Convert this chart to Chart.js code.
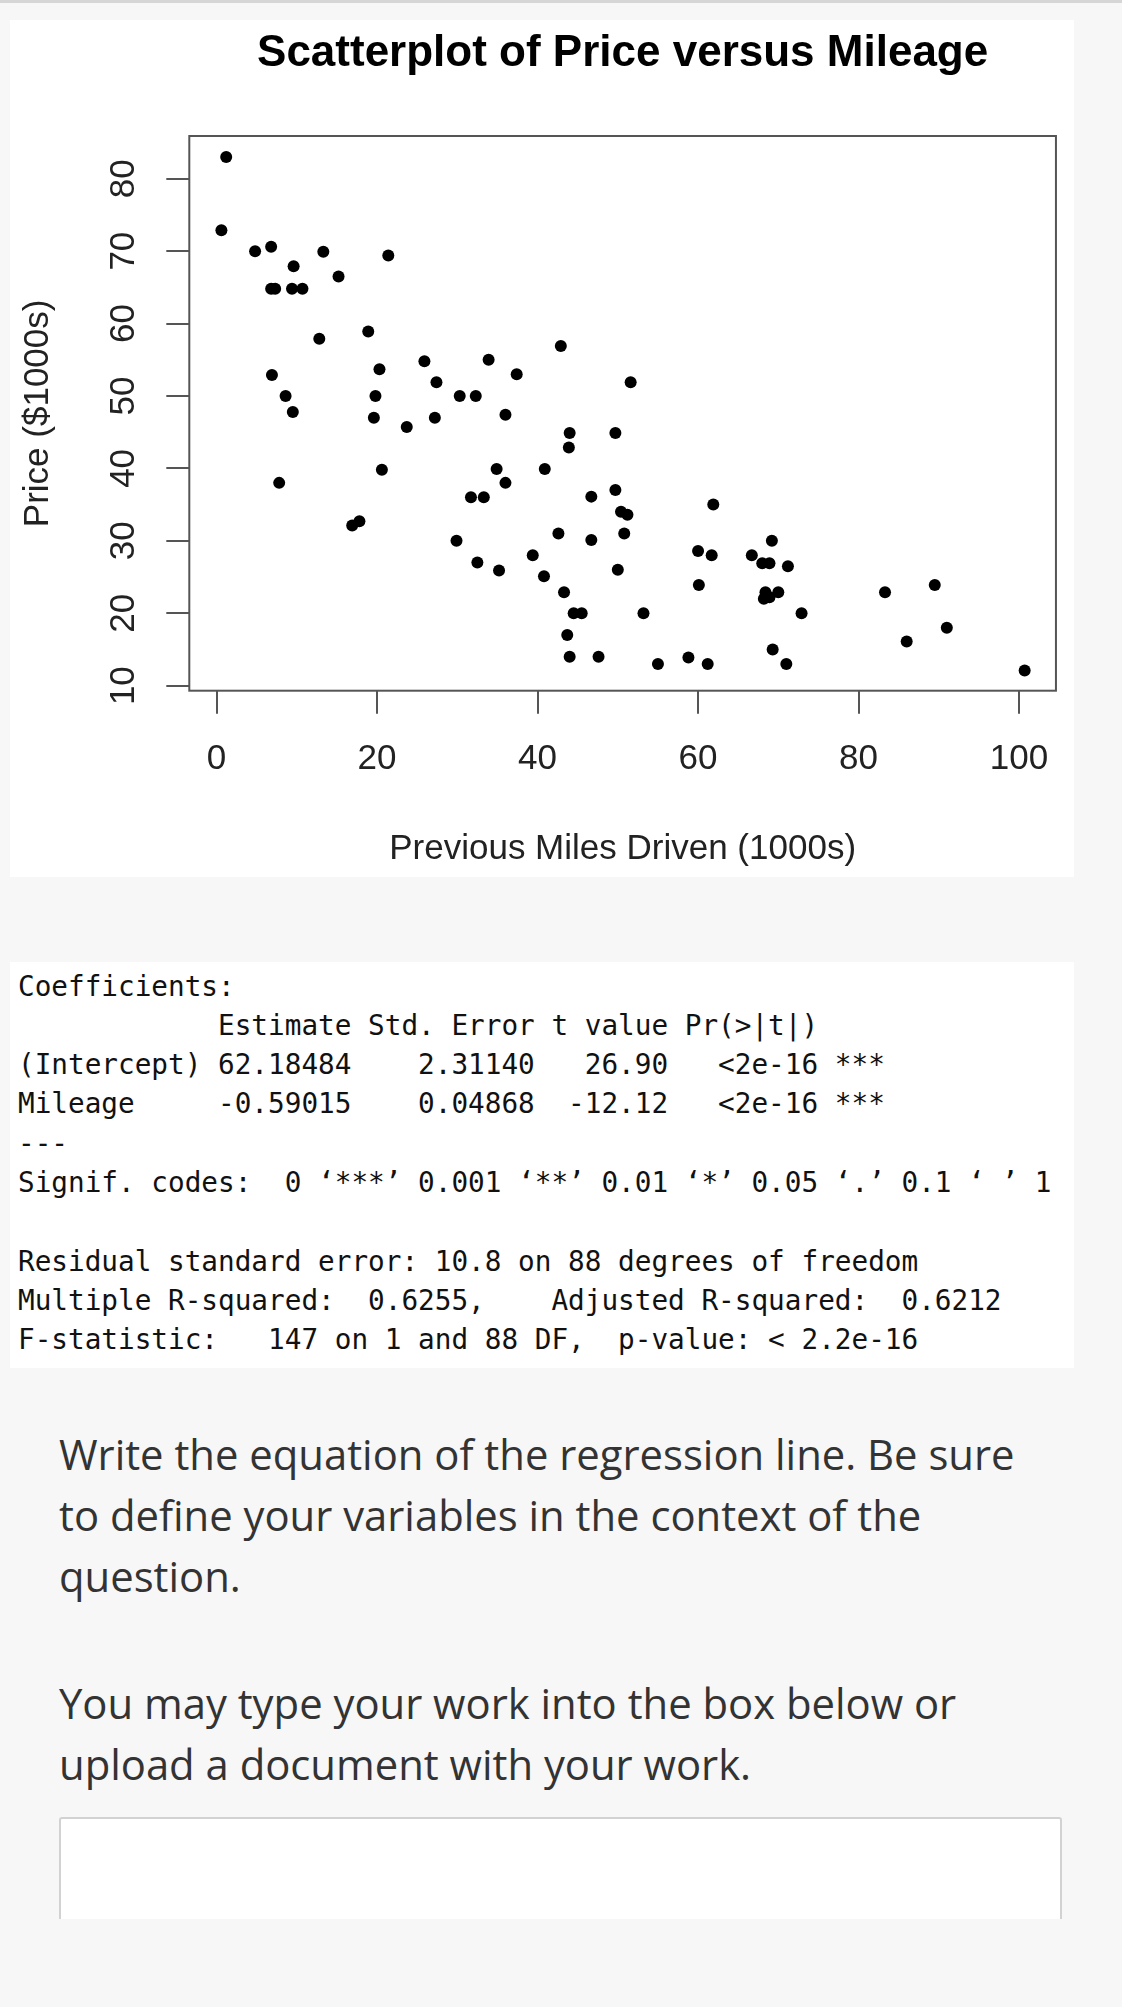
<!DOCTYPE html>
<html>
<head>
<meta charset="utf-8">
<title>Scatterplot of Price versus Mileage</title>
<script src="https://cdn.jsdelivr.net/npm/chart.js@4.4.0/dist/chart.umd.min.js"></script>
<style>
  html, body { margin: 0; padding: 0; }
  body {
    width: 1122px; height: 2007px; position: relative; overflow: hidden;
    background: #f7f7f7; font-family: "Open Sans", "Noto Sans", sans-serif;
  }
  .topline { position: absolute; left: 0; top: 0; width: 1122px; height: 3px; background: #d6d6d6; }
  #chartBox { position: absolute; left: 10px; top: 20px; width: 1064px; height: 857px; background: #fff; }
  #stats {
    position: absolute; left: 10px; top: 962px; width: 1064px; height: 406px; margin: 0;
    box-sizing: border-box; padding: 4.5px 0 0 8px; background: #fff; color: #111;
    font: 27.7px/39.3px "DejaVu Sans Mono", monospace; white-space: pre;
  }
  .q { position: absolute; left: 59px; margin: 0; color: #333; font-size: 41.8px; line-height: 61px; white-space: nowrap; }
  #answerWrap { position: absolute; left: 59px; top: 1817px; width: 1003px; height: 102px; overflow: hidden; }
  #answer {
    box-sizing: border-box; width: 1003px; height: 200px; background: #fff;
    border: 2px solid #d2d2d2; border-radius: 3px;
  }
</style>
</head>
<body>
<div class="topline"></div>
<div id="chartBox"><canvas id="chart" width="1064" height="857"></canvas></div>

<pre id="stats">Coefficients:
            Estimate Std. Error t value Pr(&gt;|t|)
(Intercept) 62.18484    2.31140   26.90   &lt;2e-16 ***
Mileage     -0.59015    0.04868  -12.12   &lt;2e-16 ***
---
Signif. codes:  0 ‘***’ 0.001 ‘**’ 0.01 ‘*’ 0.05 ‘.’ 0.1 ‘ ’ 1

Residual standard error: 10.8 on 88 degrees of freedom
Multiple R-squared:  0.6255,    Adjusted R-squared:  0.6212
F-statistic:   147 on 1 and 88 DF,  p-value: &lt; 2.2e-16</pre>

<p class="q" style="top:1423px">Write the equation of the regression line. Be sure<br>to define your variables in the context of the<br>question.</p>
<p class="q" style="top:1672px">You may type your work into the box below or<br>upload a document with your work.</p>
<div id="answerWrap"><div id="answer"></div></div>

<script>
// mileage in 1000s of miles, price in $1000s
const mileage = [1.2, 0.6, 4.8, 6.8, 9.6, 13.3, 15.2, 21.4, 6.8, 7.3,
  9.4, 10.7, 12.8, 18.9, 6.9, 20.3, 8.6, 19.8, 9.5, 19.6,
  23.7, 25.9, 27.4, 30.3, 32.3, 33.9, 37.4, 42.9, 51.6, 27.2,
  36.0, 44.0, 49.7, 43.9, 20.6, 34.9, 36.0, 40.9, 31.7, 33.3,
  46.7, 49.7, 50.4, 51.2, 61.9, 42.6, 46.7, 50.8, 29.9, 32.5,
  35.2, 39.4, 40.8, 50.0, 43.3, 44.5, 45.5, 43.7, 44.0, 47.6,
  53.2, 55.0, 58.8, 61.2, 60.0, 61.7, 60.1, 69.2, 66.7, 68.0,
  68.9, 71.2, 68.4, 68.2, 70.0, 68.9, 72.9, 69.3, 71.0, 83.3,
  89.5, 91.0, 86.0, 100.7, 7.8, 16.9, 17.8];
const price = [83.0, 72.9, 70.0, 70.6, 67.9, 69.9, 66.5, 69.4, 64.8, 64.8,
  64.8, 64.8, 57.9, 58.9, 52.9, 53.7, 50.0, 50.0, 47.8, 47.0,
  45.7, 54.8, 51.9, 50.0, 50.0, 55.0, 53.0, 56.9, 51.9, 47.0,
  47.4, 44.9, 44.9, 42.9, 39.8, 39.9, 38.0, 39.9, 36.0, 36.0,
  36.1, 37.0, 34.0, 33.6, 35.0, 31.0, 30.1, 31.0, 30.0, 27.0,
  25.9, 28.0, 25.1, 26.0, 22.9, 20.0, 20.0, 17.0, 14.0, 14.0,
  20.0, 13.0, 13.9, 13.0, 28.6, 28.0, 23.9, 30.0, 28.0, 26.9,
  26.9, 26.5, 22.9, 22.0, 22.9, 22.2, 20.0, 15.0, 13.0, 22.9,
  23.9, 18.0, 16.1, 12.1, 38.0, 32.1, 32.7];
const xTicks = [0, 20, 40, 60, 80, 100];
const yTicks = [10, 20, 30, 40, 50, 60, 70, 80];

const FONT = '"Liberation Sans", Arial, Helvetica, sans-serif';
Chart.defaults.font.family = FONT;

const points = mileage.map((m, i) => ({ x: m, y: price[i] }));

// R style frame round the plot region
const frame = {
  id: 'frame',
  beforeDatasetsDraw(chart) {
    const { ctx, chartArea: a } = chart;
    ctx.save();
    ctx.strokeStyle = '#555';
    ctx.lineWidth = 2;
    ctx.strokeRect(a.left, a.top, a.right - a.left, a.bottom - a.top);
    ctx.restore();
  }
};

// y tick labels run along the axis, like R's las = 0
const yLabels = {
  id: 'yLabels',
  afterDraw(chart) {
    const ctx = chart.ctx;
    const s = chart.scales.y;
    ctx.save();
    ctx.font = '35px ' + FONT;
    ctx.fillStyle = '#222';
    ctx.textAlign = 'center';
    ctx.textBaseline = 'middle';
    s.ticks.forEach(t => {
      ctx.save();
      ctx.translate(s.right - 65, s.getPixelForValue(t.value));
      ctx.rotate(-Math.PI / 2);
      ctx.fillText(String(t.value), 0, 0);
      ctx.restore();
    });
    ctx.restore();
  }
};

const tickGrid = { drawOnChartArea: false, drawTicks: true, tickLength: 23, color: '#555', lineWidth: 2 };

new Chart(document.getElementById('chart'), {
  type: 'scatter',
  data: {
    datasets: [{
      data: points,
      backgroundColor: '#000',
      borderWidth: 0,
      pointRadius: 6,
      pointHoverRadius: 6
    }]
  },
  options: {
    responsive: false,
    animation: false,
    devicePixelRatio: 1,
    layout: { padding: { left: 0, right: 13, top: 0, bottom: 0 } },
    plugins: {
      legend: { display: false },
      tooltip: { enabled: false },
      title: {
        display: true,
        text: 'Scatterplot of Price versus Mileage',
        fullSize: false,
        color: '#000',
        font: { size: 44, weight: 'bold' },
        padding: { top: 7, bottom: 56.2 }
      }
    },
    scales: {
      x: {
        type: 'linear',
        min: -3.4,
        max: 104.6,
        afterBuildTicks: s => { s.ticks = xTicks.map(v => ({ value: v })); },
        afterFit: s => { s.height = 186.3; },
        grid: tickGrid,
        border: { display: false },
        ticks: { color: '#222', font: { size: 35 }, padding: 25, maxRotation: 0, autoSkip: false },
        title: {
          display: true,
          text: 'Previous Miles Driven (1000s)',
          color: '#222',
          font: { size: 35 },
          padding: { top: 0, bottom: 6.5 }
        }
      },
      y: {
        type: 'linear',
        min: 9.3,
        max: 85.9,
        afterBuildTicks: s => { s.ticks = yTicks.map(v => ({ value: v })); },
        afterFit: s => { s.width = 179.3; },
        grid: tickGrid,
        border: { display: false },
        ticks: { display: false },
        title: {
          display: true,
          text: 'Price ($1000s)',
          color: '#222',
          font: { size: 35 },
          padding: { top: 7, bottom: 0 }
        }
      }
    }
  },
  plugins: [frame, yLabels]
});
</script>
</body>
</html>
